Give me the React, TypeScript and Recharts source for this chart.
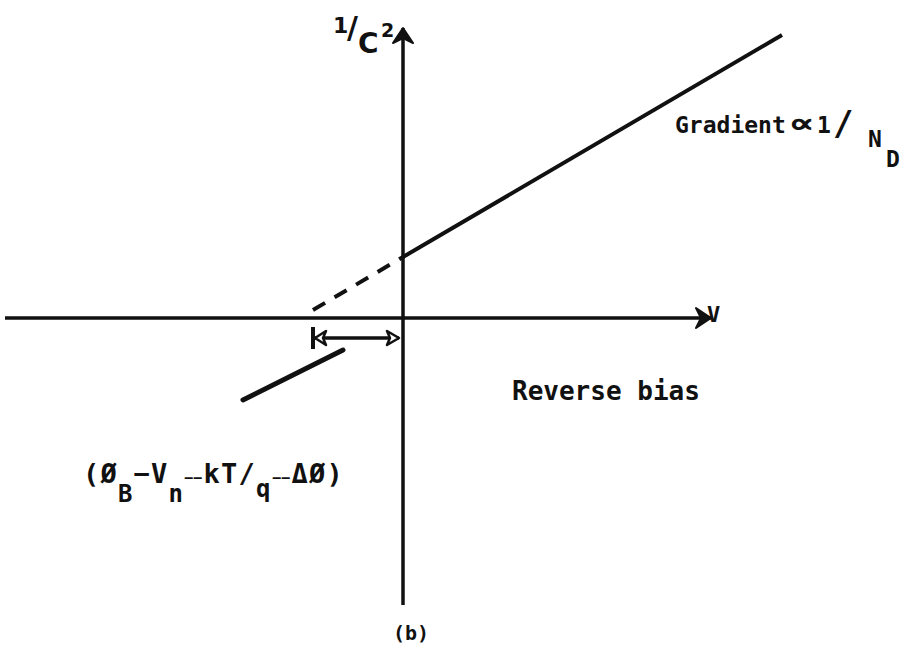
import { LineChart, Line, XAxis, YAxis, ReferenceDot } from 'recharts'

// V (bias) and 1/C² in arbitrary units
const reverseV = [0, 37.9]
const reverseY = [6.1, 28.3]
const extrapV = [-9, 0]
const extrapY = [0.8, 6.1]
const forwardV = [-16, -6]
const forwardY = [-8.2, -3.2]
const vAxisV = [-39.8, 30.8]
const cAxisY = [-28.7, 29.0]
const offsetV = [-9, -0.4]
const offsetY = -2.0

const toRows = (vs: number[], ys: number[]) => vs.map((v, i) => ({ v, y: ys[i] }))

const reverseData = toRows(reverseV, reverseY)
const extrapData = toRows(extrapV, extrapY)
const forwardData = toRows(forwardV, forwardY)
const vAxisData = toRows(vAxisV, [0, 0])
const cAxisData = toRows([0, 0], cAxisY)
const offsetData = toRows(offsetV, [offsetY, offsetY])

const INK = '#111'
const MONO = '"DejaVu Sans Mono", "Liberation Mono", monospace'

type DotProps = { cx?: number; cy?: number; index?: number }

function arrowRight(p: DotProps) {
  if (p.index !== 1 || p.cx == null || p.cy == null) return <g key={`r${p.index}`} />
  return (
    <path
      key="ar"
      d={`M${p.cx},${p.cy} L${p.cx - 15},${p.cy - 10} L${p.cx - 10},${p.cy} L${p.cx - 15},${p.cy + 10} Z`}
      fill={INK}
      stroke={INK}
      strokeWidth={2}
      strokeLinejoin="round"
    />
  )
}

function arrowUp(p: DotProps) {
  if (p.index !== 1 || p.cx == null || p.cy == null) return <g key={`u${p.index}`} />
  return (
    <path
      key="au"
      d={`M${p.cx},${p.cy} L${p.cx - 10},${p.cy + 15} L${p.cx},${p.cy + 10} L${p.cx + 10},${p.cy + 15} Z`}
      fill={INK}
      stroke={INK}
      strokeWidth={2}
      strokeLinejoin="round"
    />
  )
}

// |<----> marker for the barrier offset
function offsetEnds(p: DotProps) {
  if (p.cx == null || p.cy == null) return <g key={`o${p.index}`} />
  const { cx, cy } = p
  if (p.index === 0) {
    return (
      <g key="o0">
        <line x1={cx} y1={cy - 11} x2={cx} y2={cy + 11} stroke={INK} strokeWidth={4} />
        <path
          d={`M${cx + 2},${cy} L${cx + 13},${cy - 7} L${cx + 10},${cy} L${cx + 13},${cy + 7} Z`}
          fill="#fff"
          stroke={INK}
          strokeWidth={2.5}
          strokeLinejoin="round"
        />
      </g>
    )
  }
  return (
    <path
      key="o1"
      d={`M${cx},${cy} L${cx - 12},${cy - 7} L${cx - 9},${cy} L${cx - 12},${cy + 7} Z`}
      fill="#fff"
      stroke={INK}
      strokeWidth={2.5}
      strokeLinejoin="round"
    />
  )
}

type TextShape = { cx?: number; cy?: number }
// [text, x offset, y offset, font size, stretched width]
type Piece = [string, number, number, number, number?]

// one <text> per label, glyph runs placed with tspans
function pieces(parts: Piece[], family: string) {
  return (p: TextShape) => {
    const x0 = p.cx ?? 0
    const y0 = p.cy ?? 0
    return (
      <text fill={INK} fontFamily={family} fontWeight={700}>
        {parts.map(([t, dx, dy, fs, w], i) => (
          <tspan
            key={i}
            x={x0 + dx}
            y={y0 + dy}
            fontSize={fs}
            textLength={w}
            lengthAdjust={w ? 'spacingAndGlyphs' : undefined}
          >
            {t}
          </tspan>
        ))}
      </text>
    )
  }
}

const axisTitle = pieces(
  [
    ['1', 0, -20, 22],
    ['/', 14, -15, 30],
    ['C', 25, 0, 28],
    ['2', 48, -16, 19],
  ],
  '"DejaVu Sans", sans-serif'
)

const vLabel = pieces([['V', 0, 0, 22]], MONO)

const gradientLabel = pieces(
  [
    ['Gradient', 0, 0, 23],
    ['∝', 113, 0, 28, 27],
    ['1', 142, 0, 23],
    ['/', 158, 2, 34],
    ['N', 193, 14, 23],
    ['D', 211, 34, 23],
  ],
  MONO
)

const reverseLabel = pieces([['Reverse bias', 0, 0, 26]], MONO)

const offsetLabel = pieces(
  [
    ['(', 0, 0, 27],
    ['Ø', 17.5, 0, 27],
    ['B', 35, 19, 24],
    ['−', 50.5, 0, 27],
    ['V', 68, 0, 27],
    ['n', 85.5, 19, 24],
    ['−−', 101, 0, 15],
    ['k', 120.5, 0, 27],
    ['T', 138, 0, 27],
    ['/', 155.5, 0, 27],
    ['q', 173, 14, 24],
    ['−−', 189, 0, 15],
    ['Δ', 208.5, 0, 27],
    ['Ø', 226, 0, 27],
    [')', 243.5, 0, 27],
  ],
  MONO
)

const panelLabel = pieces([['(b)', 0, 0, 20]], MONO)

export default function App() {
  return (
    <div style={{ position: 'absolute', left: 0, top: 0, background: '#fff' }}>
      <LineChart width={908} height={653} margin={{ top: 0, right: 0, bottom: 0, left: 0 }}>
        <XAxis type="number" dataKey="v" domain={[-40.3, 50.5]} hide allowDataOverflow />
        <YAxis type="number" dataKey="y" domain={[-33.5, 31.8]} hide allowDataOverflow />

        <Line data={vAxisData} dataKey="y" stroke={INK} strokeWidth={3.5} dot={arrowRight} activeDot={false} isAnimationActive={false} />
        <Line data={cAxisData} dataKey="y" stroke={INK} strokeWidth={3.5} dot={arrowUp} activeDot={false} isAnimationActive={false} />
        <Line data={reverseData} dataKey="y" stroke={INK} strokeWidth={4} dot={false} activeDot={false} isAnimationActive={false} />
        <Line data={extrapData} dataKey="y" stroke={INK} strokeWidth={4} strokeDasharray="14 11" dot={false} activeDot={false} isAnimationActive={false} />
        <Line data={forwardData} dataKey="y" stroke={INK} strokeWidth={5} strokeLinecap="round" dot={false} activeDot={false} isAnimationActive={false} />
        <Line data={offsetData} dataKey="y" stroke={INK} strokeWidth={3.5} dot={offsetEnds} activeDot={false} isAnimationActive={false} />

        <ReferenceDot x={-7} y={26.5} r={0} shape={axisTitle} />
        <ReferenceDot x={30.4} y={-0.4} r={0} shape={vLabel} />
        <ReferenceDot x={27.2} y={18.5} r={0} shape={gradientLabel} />
        <ReferenceDot x={10.9} y={-8.2} r={0} shape={reverseLabel} />
        <ReferenceDot x={-32} y={-16.5} r={0} shape={offsetLabel} />
        <ReferenceDot x={-1} y={-32.2} r={0} shape={panelLabel} />
      </LineChart>
    </div>
  )
}
